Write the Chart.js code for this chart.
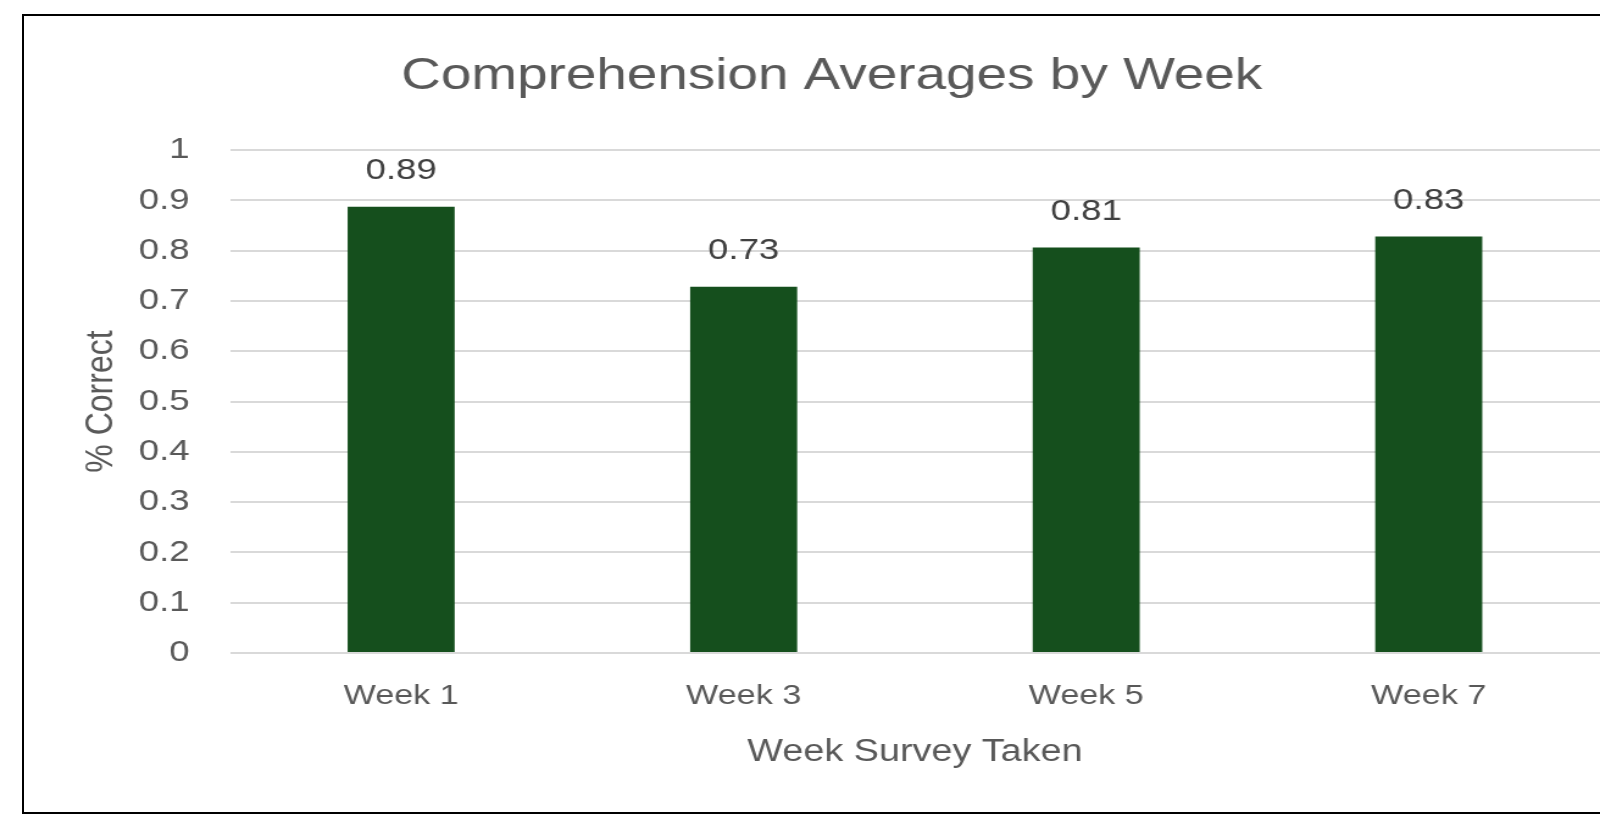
<!DOCTYPE html>
<html>
<head>
<meta charset="utf-8">
<script src="https://cdn.jsdelivr.net/npm/chart.js@4/dist/chart.umd.min.js"></script>
<style>
  html, body { margin: 0; padding: 0; background: #ffffff; }
  #wrap { position: relative; width: 1600px; height: 816px; overflow: hidden; background: #ffffff; }
  #c { position: absolute; left: 0; top: 0; display: block; }
  #frame { position: absolute; left: 22px; top: 14px; width: 1640px; height: 800px; box-sizing: border-box; border: 2px solid #000; pointer-events: none; }
</style>
</head>
<body>
<div id="wrap">
  <canvas id="c" width="1312" height="816" style="width:1600px;height:816px;"></canvas>
  <div id="frame"></div>
</div>
<script>
const categories = ['Week 1', 'Week 3', 'Week 5', 'Week 7'];
const averages = [0.887, 0.728, 0.806, 0.828];
const yTickLabels = ['0', '0.1', '0.2', '0.3', '0.4', '0.5', '0.6', '0.7', '0.8', '0.9', '1'];
const chartTitle = 'Comprehension Averages by Week';
const xTitle = 'Week Survey Taken';
const yTitle = '% Correct';

Chart.defaults.font.family = "'Liberation Sans', Arial, sans-serif";
Chart.defaults.color = '#595959';

const valueLabels = {
  id: 'valueLabels',
  afterDatasetsDraw(chart) {
    const ctx = chart.ctx;
    const meta = chart.getDatasetMeta(0);
    ctx.save();
    ctx.font = "30px 'Liberation Sans', Arial, sans-serif";
    ctx.fillStyle = '#404040';
    ctx.textAlign = 'center';
    ctx.textBaseline = 'middle';
    meta.data.forEach((bar, i) => {
      ctx.fillText(averages[i].toFixed(2), bar.x, bar.y - 36);
    });
    ctx.restore();
  }
};

new Chart(document.getElementById('c'), {
  type: 'bar',
  data: {
    labels: categories,
    datasets: [{
      data: averages,
      backgroundColor: '#154f1d',
      borderWidth: 0,
      barPercentage: 0.3125,
      categoryPercentage: 1.0
    }]
  },
  options: {
    responsive: false,
    animation: false,
    devicePixelRatio: 1,
    layout: { padding: { left: 52, right: 0, top: 0, bottom: 0 } },
    plugins: {
      legend: { display: false },
      tooltip: { enabled: false },
      title: {
        display: true,
        text: chartTitle,
        color: '#595959',
        font: { size: 45, weight: 'normal', lineHeight: 1.2 },
        padding: { top: 50, bottom: 46 }
      }
    },
    scales: {
      x: {
        grid: { display: false, drawTicks: false },
        border: { display: false },
        ticks: { color: '#595959', font: { size: 28 }, padding: 26 },
        title: {
          display: true,
          text: xTitle,
          color: '#595959',
          font: { size: 31, lineHeight: 1.2 },
          padding: { top: 0, bottom: 45 }
        },
        afterFit(scale) { scale.height = 163; }
      },
      y: {
        min: 0,
        max: 1,
        grid: { color: '#d9d9d9', lineWidth: 2, drawTicks: false },
        border: { display: false },
        ticks: {
          stepSize: 0.1,
          color: '#595959',
          font: { size: 30 },
          padding: 33,
          callback: (v, i) => yTickLabels[i]
        },
        title: {
          display: true,
          text: yTitle,
          color: '#595959',
          font: { size: 32, lineHeight: 1.2 },
          padding: { top: 12, bottom: 0 }
        },
        afterFit(scale) { scale.width = 136.5; }
      }
    }
  },
  plugins: [valueLabels]
});
</script>
</body>
</html>
